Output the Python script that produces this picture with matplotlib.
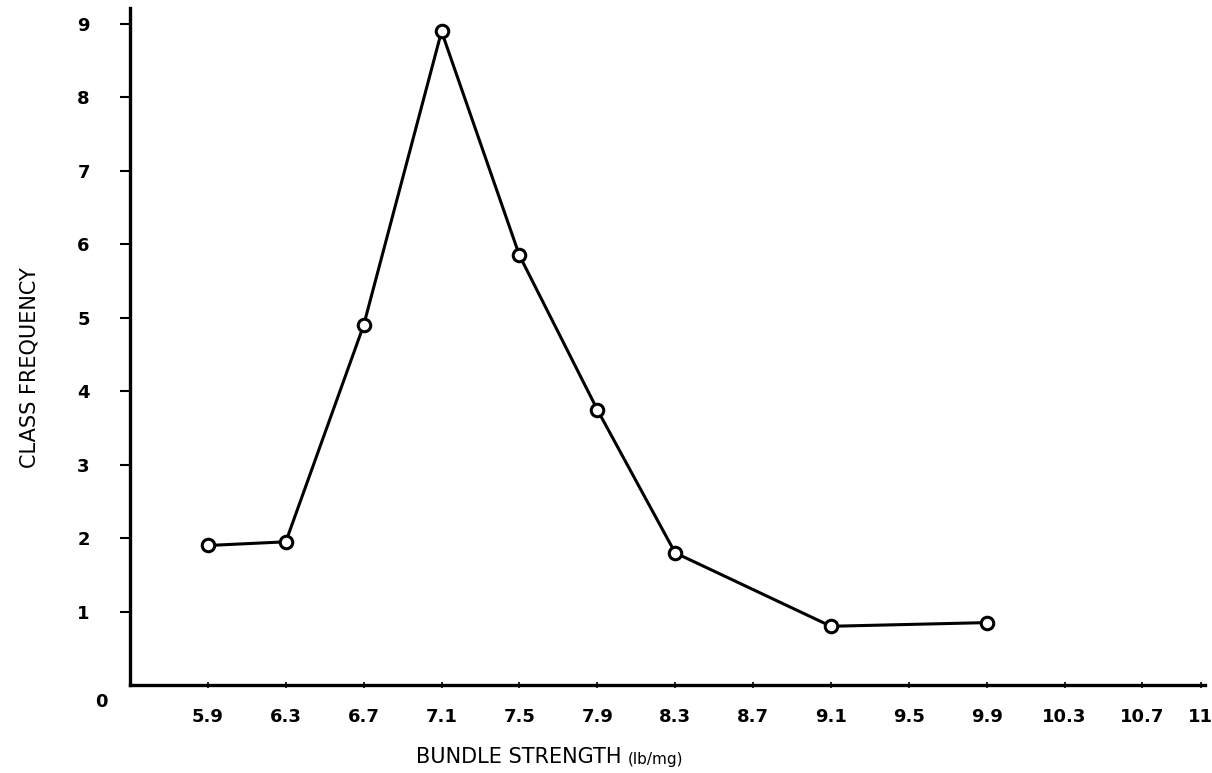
import matplotlib
matplotlib.use("Agg")
import matplotlib.pyplot as plt
import matplotlib.transforms as mtransforms

# Data
strength = [5.9, 6.3, 6.7, 7.1, 7.5, 7.9, 8.3, 9.1, 9.9]
frequency = [1.9, 1.95, 4.9, 8.9, 5.85, 3.75, 1.8, 0.8, 0.85]
x_ticks = [5.9, 6.3, 6.7, 7.1, 7.5, 7.9, 8.3, 8.7, 9.1, 9.5, 9.9, 10.3, 10.7, 11.0]
x_tick_labels = ["5.9", "6.3", "6.7", "7.1", "7.5", "7.9", "8.3", "8.7", "9.1",
                 "9.5", "9.9", "10.3", "10.7", "11"]
y_ticks = [1, 2, 3, 4, 5, 6, 7, 8, 9]
y_tick_labels = ["1", "2", "3", "4", "5", "6", "7", "8", "9"]

plt.rcParams['font.family'] = ['DejaVu Sans']

fig = plt.figure(figsize=(12.12, 7.73), dpi=100)
ax = fig.add_axes([0.1073, 0.1138, 0.8867, 0.876])

ax.plot(strength, frequency, color='black', lw=2.2, marker='o', ms=9,
        mfc='white', mec='black', mew=2.2, zorder=3)

ax.set_xlim(5.5, 11.02)
ax.set_ylim(0, 9.22)

for s in ['top', 'right']:
    ax.spines[s].set_visible(False)
for s in ['left', 'bottom']:
    ax.spines[s].set_linewidth(2.4)

ax.set_xticks(x_ticks)
ax.set_xticklabels(x_tick_labels, fontsize=13, fontweight='bold')
ax.set_yticks(y_ticks)
ax.set_yticklabels(y_tick_labels, fontsize=13, fontweight='bold')
ax.tick_params(axis='y', direction='out', length=7, width=1.5, pad=22)
ax.tick_params(axis='x', direction='inout', length=5, width=1.2, pad=14)

# zero label at the origin, drawn below the axis like the original
offset = mtransforms.ScaledTranslation(-0.29, -0.17, fig.dpi_scale_trans)
ax.text(5.5, 0, "0", transform=ax.transData + offset, fontsize=13,
        fontweight='bold', ha='center', va='center')

fig.text(0.513, 0.008, "BUNDLE STRENGTH", fontsize=15, ha='right', va='bottom')
fig.text(0.518, 0.008, "(lb/mg)", fontsize=11, ha='left', va='bottom')
fig.text(0.024, 0.525, "CLASS FREQUENCY", fontsize=15, rotation=90,
         ha='center', va='center')

fig.savefig("out.png", dpi=100, facecolor='white')
